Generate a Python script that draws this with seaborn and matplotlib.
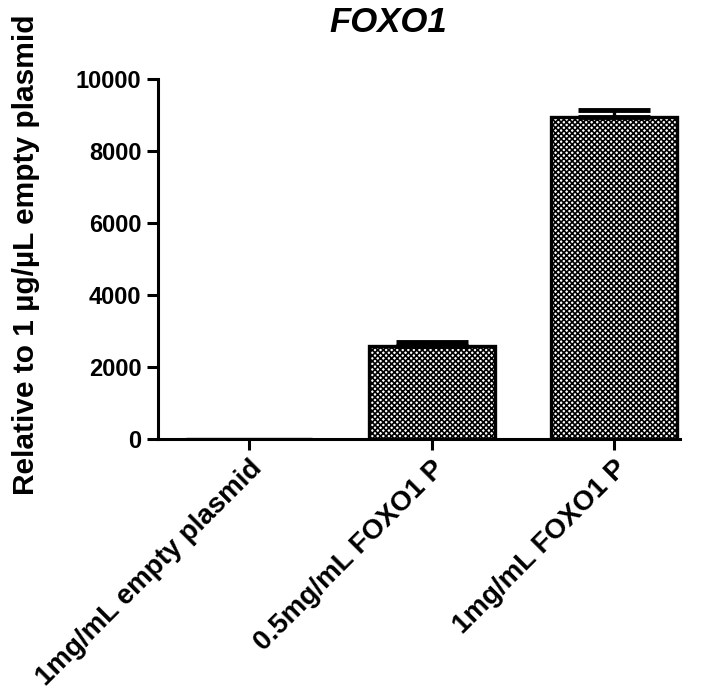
import matplotlib
matplotlib.use("Agg")
import matplotlib.pyplot as plt
import seaborn as sns
import numpy as np

categories = ["1mg/mL empty plasmid", "0.5mg/mL FOXO1 P", "1mg/mL FOXO1 P"]
means = [1, 2580, 8950]
sems = [0, 110, 190]
yticks = [0, 2000, 4000, 6000, 8000, 10000]

sns.set_style("white")
plt.rcParams["font.family"] = ["Liberation Sans", "DejaVu Sans"]
plt.rcParams["hatch.linewidth"] = 1.2
plt.rcParams["text.color"] = "black"
plt.rcParams["axes.labelcolor"] = "black"
plt.rcParams["xtick.color"] = "black"
plt.rcParams["ytick.color"] = "black"

fig = plt.figure(figsize=(7.03, 6.90), dpi=100)
ax = fig.add_axes([0.2248, 0.3638, 0.7425, 0.5217])

sns.barplot(x=categories, y=means, ax=ax, color="white", width=0.69,
            edgecolor="black", linewidth=2.4, errorbar=None, saturation=1)
for p in ax.patches:
    p.set_hatch("xxxxxx")

# upper error bars (SEM) only where there is spread
x_pos = np.arange(len(categories))
m = np.array(means, dtype=float)
e = np.array(sems, dtype=float)
keep = e > 0
ax.errorbar(x_pos[keep], m[keep], yerr=[np.zeros(keep.sum()), e[keep]],
            fmt="none", ecolor="black", elinewidth=2.4, capsize=26,
            capthick=3.5, zorder=1)

ax.set_ylim(0, 10000)
ax.set_xlim(-0.5, 2.36)
ax.set_yticks(yticks)
ax.set_yticklabels([str(v) for v in yticks], fontsize=17, fontweight="bold")
ax.set_xticks(x_pos)
ax.set_xticklabels(categories, rotation=45, ha="right", rotation_mode="anchor",
                   fontsize=20, fontweight="bold")
ax.tick_params(axis="both", direction="out", length=8, width=2.2, pad=4,
               left=True, bottom=True)

for s in ["top", "right"]:
    ax.spines[s].set_visible(False)
for s in ["left", "bottom"]:
    ax.spines[s].set_linewidth(2.2)
    ax.spines[s].set_color("black")

ax.set_xlabel("")
ax.set_ylabel("Relative to 1 \u00b5g/\u00b5L empty plasmid", fontsize=21.5,
              fontweight="bold", va="center")
ax.yaxis.set_label_coords(-0.253, 0.512)

fig.text(388 / 703, 1 - 23 / 690, "FOXO1", ha="center", va="center",
         fontsize=25, fontweight="bold", fontstyle="italic")

fig.savefig("out.png", dpi=100, facecolor="white")
